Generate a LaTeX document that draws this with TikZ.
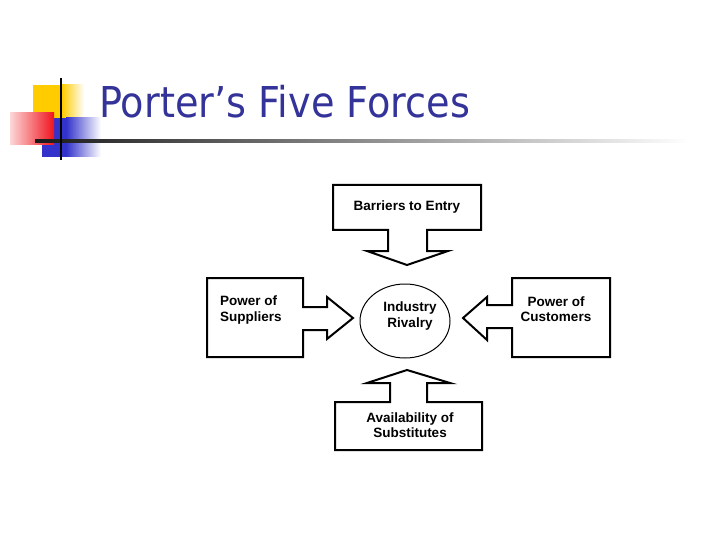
\documentclass[tikz,border=0pt]{standalone}
\usepackage{fontspec}
\usetikzlibrary{shapes.geometric}
\setmainfont{Liberation Sans}
\newfontfamily\titlefont[FakeStretch=0.9]{DejaVu Sans}
\newfontfamily\diagfont{Liberation Sans}
\definecolor{titleblue}{RGB}{51,51,153}
\definecolor{decoyellow}{RGB}{255,204,0}
\definecolor{decoblue}{RGB}{51,51,204}
\definecolor{decored}{RGB}{240,20,30}
\definecolor{decopink}{RGB}{252,215,215}
\begin{document}
\begin{tikzpicture}[x=1pt,y=-1pt,
  forcebox/.style={draw=black, line width=2pt, fill=white, line join=miter},
  lbl/.style={font=\diagfont\bfseries\fontsize{13.5}{15.5}\selectfont, inner sep=0pt, align=center},
  titletext/.style={font=\titlefont\fontsize{42.5}{48}\selectfont, text=titleblue, inner sep=0pt, anchor=base west}
]
\useasboundingbox (0,0) rectangle (720,540);
\fill[white] (0,0) rectangle (720,540);

% decoration
\fill[decoyellow] (33,85) rectangle (62,119);
\shade[left color=decoyellow, right color=white] (62,85) rectangle (84,119);
\fill[decoblue] (42,118) rectangle (66,157);
\shade[left color=decoblue, right color=white] (66,118) rectangle (101,157);
\shade[left color=decopink, right color=decored] (10,113) rectangle (54,145);
\shade[left color=black!90, right color=white] (35,139.5) rectangle (690,142.5);
\draw[black, line width=2pt] (61,78) -- (61,160);

% title
\node[titletext] (title) at (99,118) {Porter’s Five Forces};

% top: barriers to entry
\draw[forcebox] (333,185) -- (481,185) -- (481,230) -- (427,230) -- (427,251) -- (448,251)
  -- (407,265) -- (367,251) -- (388,251) -- (388,230) -- (333,230) -- cycle;
\node[lbl] (barriers) at (407,207) {Barriers to Entry};

% left: suppliers
\draw[forcebox] (207,278) -- (303,278) -- (303,307) -- (327,307) -- (327,297) -- (353,318)
  -- (327,339) -- (327,330) -- (303,330) -- (303,357) -- (207,357) -- cycle;
\node[lbl, align=left, anchor=west] (suppliers) at (220,310) {Power of\\Suppliers};

% right: customers
\draw[forcebox] (610,278) -- (512,278) -- (512,305) -- (487,305) -- (487,297) -- (463,318)
  -- (487,340) -- (487,328) -- (512,328) -- (512,357) -- (610,357) -- cycle;
\node[lbl] (customers) at (556,309) {Power of\\Customers};

% bottom: substitutes
\draw[forcebox] (335,450) -- (482,450) -- (482,402) -- (427,402) -- (427,383) -- (450,383)
  -- (407,370) -- (367,383) -- (390,383) -- (390,402) -- (335,402) -- cycle;
\node[lbl] (substitutes) at (410,425) {Availability of\\Substitutes};

% centre: industry rivalry
\node[draw=black, line width=1pt, ellipse, minimum width=90pt, minimum height=74pt, inner sep=0pt] (rivalryshape) at (405,321) {};
\node[lbl] (rivalry) at (410,316) {Industry\\Rivalry};
\end{tikzpicture}
\end{document}
